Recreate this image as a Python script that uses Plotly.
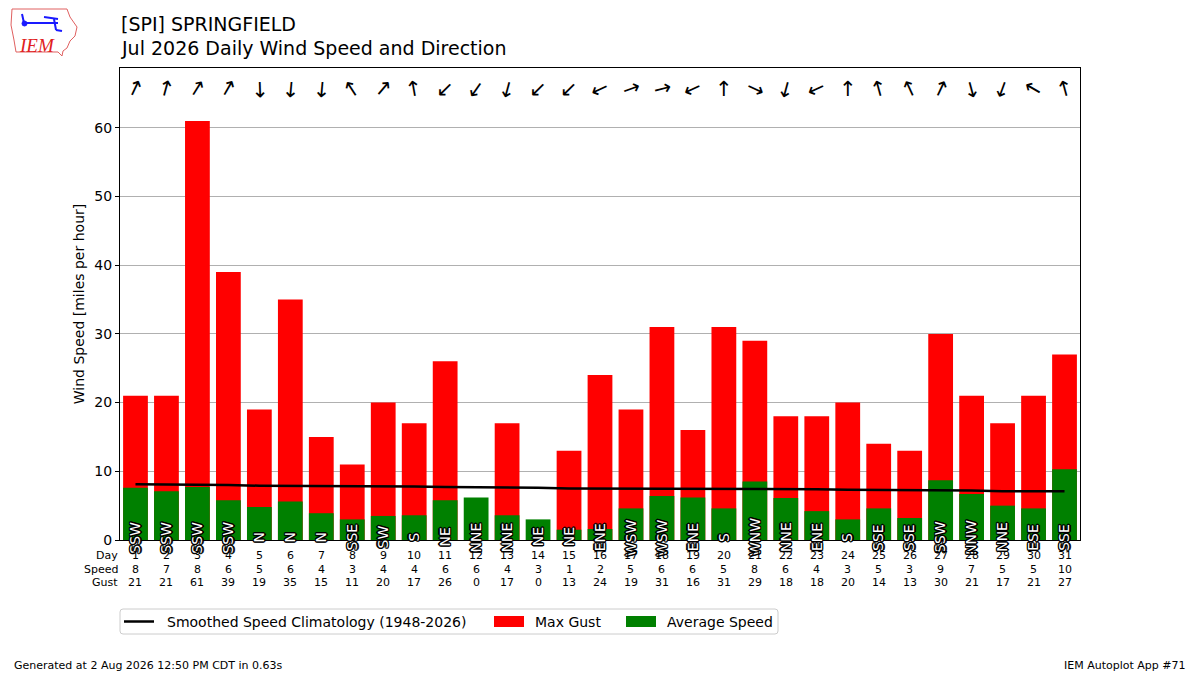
import plotly.graph_objects as go

days = list(range(1, 32))
avg_speed = [7.6, 7.1, 7.7, 5.8, 4.8, 5.6, 3.9, 3.0, 3.5, 3.6, 5.8, 6.2, 3.6, 3.0, 1.5,
             1.6, 4.6, 6.4, 6.2, 4.6, 8.5, 6.1, 4.2, 3.0, 4.6, 3.2, 8.7, 6.7, 5.0, 4.6, 10.3]
speed_lbl = [8, 7, 8, 6, 5, 6, 4, 3, 4, 4, 6, 6, 4, 3, 1, 2, 5, 6, 6, 5, 8, 6, 4, 3, 5, 3, 9, 7, 5, 5, 10]
max_gust = [21, 21, 61, 39, 19, 35, 15, 11, 20, 17, 26, 0, 17, 0, 13, 24, 19, 31, 16, 31,
            29, 18, 18, 20, 14, 13, 30, 21, 17, 21, 27]
climo = [8.1, 8.1, 8.0, 8.0, 7.9, 7.9, 7.9, 7.8, 7.8, 7.8, 7.7, 7.7, 7.6, 7.6, 7.5, 7.5,
         7.5, 7.5, 7.5, 7.5, 7.5, 7.4, 7.4, 7.3, 7.3, 7.2, 7.2, 7.2, 7.1, 7.1, 7.1]
dir_txt = ["SSW", "SSW", "SSW", "SSW", "N", "N", "N", "SSE", "SW", "S", "NE", "NNE", "NNE", "NE", "NE",
           "ENE", "WSW", "WSW", "ENE", "S", "WNW", "NNE", "ENE", "S", "SSE", "SSE", "SSW", "NNW", "NNE", "ESE", "SSE"]
dir_deg = [205, 195, 212, 210, 358, 5, 5, 147, 220, 170, 45, 35, 15, 45, 45, 65, 250, 256, 65, 180,
           295, 15, 65, 180, 165, 155, 205, 345, 20, 120, 165]
legend_names = ["Smoothed Speed Climatology (1948-2026)", "Max Gust", "Average Speed"]

FONT = "DejaVu Sans"
L, R, T, B = 120, 120, 68, 135
W, H = 1200, 675
PW, PH = W - L - R, H - T - B
RED, GREEN = "#ff0000", "#008000"


def px(x):
    return (x - L) / PW


def py(y):
    return (H - B - y) / PH


fig = go.Figure()
fig.add_trace(go.Bar(x=days, y=max_gust, name=legend_names[1], marker=dict(color=RED, line_width=0),
                     width=0.8, showlegend=False))
fig.add_trace(go.Bar(x=days, y=avg_speed, name=legend_names[2], marker=dict(color=GREEN, line_width=0),
                     width=0.8, showlegend=False))
fig.add_trace(go.Scatter(x=days, y=climo, mode="lines", name=legend_names[0],
                         line=dict(color="black", width=2.5), showlegend=False))

ann = []
shadow = ("-1px -1px 0 #000, 1px -1px 0 #000, -1px 1px 0 #000, 1px 1px 0 #000, "
          "0 1.5px 0 #000, 0 -1.5px 0 #000, 1.5px 0 0 #000, -1.5px 0 0 #000, 0 0 1px #000")
for d, t, deg, s, g in zip(days, dir_txt, dir_deg, speed_lbl, max_gust):
    ang = ((deg + 180) % 360 + 180) % 360 - 180
    ann.append(dict(x=d, y=py(89), xref="x", yref="paper", text="↑", showarrow=False,
                    textangle=ang, font=dict(family=FONT, size=21, color="black"),
                    xanchor="center", yanchor="middle"))
    ann.append(dict(x=d, y=0.4, xref="x", yref="y", text=t, showarrow=False, textangle=-90,
                    font=dict(family=FONT, size=14, color="white", shadow=shadow),
                    xanchor="center", yanchor="middle"))
    for row, val in zip([555, 569, 582], [d, s, g]):
        ann.append(dict(x=d, y=py(row), xref="x", yref="paper", text=str(val), showarrow=False,
                        font=dict(family=FONT, size=11, color="black"), xanchor="center", yanchor="middle"))
for row, lab in zip([555, 569, 582], ["Day", "Speed", "Gust"]):
    ann.append(dict(x=px(120), y=py(row), xref="paper", yref="paper", text=lab, showarrow=False,
                    font=dict(family=FONT, size=11, color="black"), xanchor="right", yanchor="middle"))

ann.append(dict(x=px(119), y=py(24), xref="paper", yref="paper", text="[SPI] SPRINGFIELD", showarrow=False,
                font=dict(family=FONT, size=19, color="black"), xanchor="left", yanchor="middle"))
ann.append(dict(x=px(119), y=py(48), xref="paper", yref="paper", text="Jul 2026 Daily Wind Speed and Direction",
                showarrow=False, font=dict(family=FONT, size=19, color="black"), xanchor="left", yanchor="middle"))
ann.append(dict(x=px(12), y=py(665), xref="paper", yref="paper",
                text="Generated at 2 Aug 2026 12:50 PM CDT in 0.63s", showarrow=False,
                font=dict(family=FONT, size=11, color="black"), xanchor="left", yanchor="middle"))
ann.append(dict(x=px(1188), y=py(665), xref="paper", yref="paper", text="IEM Autoplot App #71",
                showarrow=False, font=dict(family=FONT, size=11, color="black"), xanchor="right", yanchor="middle"))
ann.append(dict(x=px(37), y=py(45), xref="paper", yref="paper", text="<i>IEM</i>", showarrow=False,
                font=dict(family="Liberation Serif", size=19, color="#e02020"), xanchor="center", yanchor="middle"))

shapes = []
# legend (drawn like matplotlib's: wide patches inside a rounded light-grey box)
x0, x1, y0, y1, r = 120, 778, 609, 634, 3
box = (f"M {px(x0 + r)},{py(y0)} L {px(x1 - r)},{py(y0)} Q {px(x1)},{py(y0)} {px(x1)},{py(y0 + r)} "
       f"L {px(x1)},{py(y1 - r)} Q {px(x1)},{py(y1)} {px(x1 - r)},{py(y1)} L {px(x0 + r)},{py(y1)} "
       f"Q {px(x0)},{py(y1)} {px(x0)},{py(y1 - r)} L {px(x0)},{py(y0 + r)} Q {px(x0)},{py(y0)} {px(x0 + r)},{py(y0)} Z")
shapes.append(dict(type="path", path=box, xref="paper", yref="paper", fillcolor="white",
                   line=dict(color="#cccccc", width=1)))
shapes.append(dict(type="line", x0=px(124), x1=px(154), y0=py(621.5), y1=py(621.5), xref="paper", yref="paper",
                   line=dict(color="black", width=2.5)))
for xa, col in [(494, RED), (626, GREEN)]:
    shapes.append(dict(type="rect", x0=px(xa), x1=px(xa + 30), y0=py(616), y1=py(627), xref="paper", yref="paper",
                       fillcolor=col, line=dict(width=0)))
for xt, name in zip([165, 533, 665], legend_names):
    ann.append(dict(x=px(xt), y=py(621.5), xref="paper", yref="paper", text=name, showarrow=False,
                    font=dict(family=FONT, size=14, color="black"), xanchor="left", yanchor="middle"))

# logo outline (decorative)
pts = [(12, 9), (67, 9), (70, 17), (77, 27), (75, 36), (70, 41), (67, 48), (63, 51), (62, 56), (58, 52),
       (16, 52), (14, 40), (11, 25)]
path = "M " + " L ".join(f"{px(a):.5f},{py(b):.5f}" for a, b in pts) + " Z"
shapes.append(dict(type="path", path=path, xref="paper", yref="paper", line=dict(color="#e06060", width=1)))
blue = [(24, 23, 58, 23), (22, 14, 24, 23), (44, 17, 58, 19), (54, 19, 56, 30), (56, 30, 62, 31)]
for a, b, c, d in blue:
    shapes.append(dict(type="line", x0=px(a), y0=py(b), x1=px(c), y1=py(d), xref="paper", yref="paper",
                       line=dict(color="#1a1aff", width=2)))
shapes.append(dict(type="circle", x0=px(22), y0=py(21), x1=px(27), y1=py(26), xref="paper", yref="paper",
                   fillcolor="#1a1aff", line=dict(color="#1a1aff", width=1)))

fig.update_layout(
    width=W, height=H, margin=dict(l=L, r=R, t=T, b=B),
    paper_bgcolor="white", plot_bgcolor="white",
    barmode="overlay", bargap=0.2,
    font=dict(family=FONT, size=14, color="black"),
    showlegend=False,
    annotations=ann, shapes=shapes,
)
fig.update_xaxes(range=[0.5, 31.5], showticklabels=False, ticks="", showgrid=False,
                 showline=True, mirror=True, linecolor="black", linewidth=1, zeroline=False)
fig.update_yaxes(range=[0, 68.7], tickvals=[0, 10, 20, 30, 40, 50, 60], ticks="outside", ticklen=4,
                 tickcolor="black", showgrid=True, gridcolor="#b0b0b0", gridwidth=1,
                 showline=True, mirror=True, linecolor="black", linewidth=1, zeroline=False,
                 layer="above traces",
                 title=dict(text="Wind Speed [miles per hour]", font=dict(family=FONT, size=14), standoff=6),
                 tickfont=dict(family=FONT, size=14))

fig.write_html("out.html", config={"displayModeBar": False},
               post_script="document.body.style.margin='0';document.body.style.padding='0';")
